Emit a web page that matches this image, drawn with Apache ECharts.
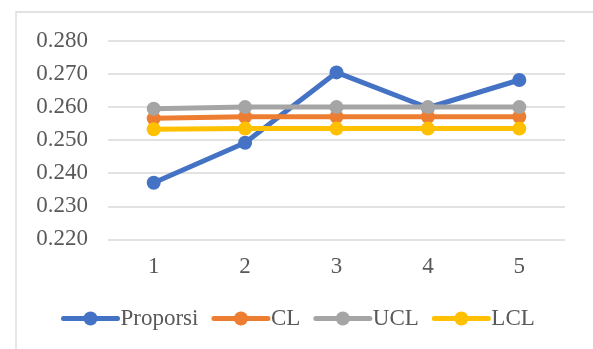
<!DOCTYPE html>
<html>
<head>
<meta charset="utf-8">
<script src="https://cdn.jsdelivr.net/npm/echarts@6/dist/echarts.min.js"></script>
<style>
  html, body { margin: 0; padding: 0; background: #ffffff; }
  #chart { width: 593px; height: 349px; }
</style>
</head>
<body>
<div id="chart"></div>
<script>
// Sample numbers along the x axis
const categories = ['1', '2', '3', '4', '5'];

// Observed proportion and control limits per sample
const proporsi = [0.2371, 0.2492, 0.2705, 0.2598, 0.2682];
const cl       = [0.2566, 0.2571, 0.2571, 0.2571, 0.2571];
const ucl      = [0.2595, 0.2600, 0.2600, 0.2600, 0.2600];
const lcl      = [0.2533, 0.2535, 0.2535, 0.2535, 0.2535];

const seriesNames = ['Proporsi', 'CL', 'UCL', 'LCL'];
const seriesColors = ['#4472C4', '#ED7D31', '#A5A5A5', '#FFC000'];
const seriesData = [proporsi, cl, ucl, lcl];

const FONT = '"Liberation Serif", "Times New Roman", serif';
const TEXT = '#595959';

const chart = echarts.init(document.getElementById('chart'), null, { renderer: 'canvas' });

chart.setOption({
  backgroundColor: '#ffffff',
  animation: false,
  graphic: [{
    type: 'rect',
    shape: { x: 16, y: 12, width: 600, height: 360 },
    style: { fill: 'none', stroke: '#d9d9d9', lineWidth: 1.3 },
    z: -1
  }],
  grid: { left: 108, right: 28, top: 41, bottom: 109.7, containLabel: false },
  xAxis: {
    type: 'category',
    data: categories,
    boundaryGap: true,
    axisLine: { show: false },
    axisTick: { show: false },
    axisLabel: { color: TEXT, fontFamily: FONT, fontSize: 23, margin: 16 }
  },
  yAxis: {
    type: 'value',
    min: 0.22,
    max: 0.28,
    interval: 0.01,
    axisLine: { show: false },
    axisTick: { show: false },
    axisLabel: {
      color: TEXT, fontFamily: FONT, fontSize: 23, margin: 20,
      formatter: v => v.toFixed(3)
    },
    splitLine: { lineStyle: { color: '#d9d9d9', width: 1.5 } }
  },
  legend: {
    left: 56,
    top: 302,
    itemWidth: 54,
    itemHeight: 17.5,
    itemGap: 13,
    lineStyle: { width: 5, cap: 'round' },
    textStyle: { color: TEXT, fontFamily: FONT, fontSize: 23, padding: [0, 0, 0, -2] },
    data: seriesNames
  },
  series: seriesNames.map((name, i) => ({
    name: name,
    type: 'line',
    data: seriesData[i],
    symbol: 'circle',
    symbolSize: 14,
    color: seriesColors[i],
    lineStyle: { width: 5, color: seriesColors[i], cap: 'round' },
    itemStyle: { color: seriesColors[i] },
    z: 2 + i
  }))
});
</script>
</body>
</html>
